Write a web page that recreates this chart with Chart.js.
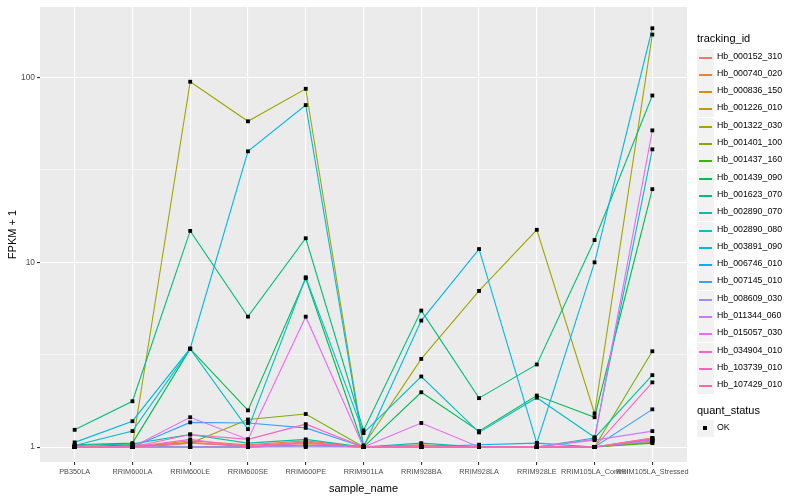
<!DOCTYPE html>
<html>
<head>
<meta charset="utf-8">
<script src="https://cdn.jsdelivr.net/npm/chart.js@4.4.1/dist/chart.umd.min.js"></script>
<style>
  body { margin: 0; background: #fff; font-family: "Liberation Sans", Arial, sans-serif; }
  #wrap { position: relative; width: 800px; height: 500px; }
  #chart { position: absolute; left: 0; top: 0; }
  .lg-title { position: absolute; left: 697px; font-size: 11px; color: #000; }
  .lg-row { position: absolute; left: 697px; height: 17px; }
  .lg-key { position: absolute; left: 0; top: 0; width: 17px; height: 17px; background: #f2f2f2; }
  .lg-line { position: absolute; left: 2px; top: 8px; width: 13px; height: 1.5px; }
  .lg-dot { position: absolute; left: 6px; top: 6px; width: 4px; height: 4px; background: #000; }
  .lg-text { position: absolute; left: 20px; top: 2px; font-size: 8.8px; color: #000; white-space: nowrap; }
</style>
</head>
<body>
<div id="wrap">
  <canvas id="chart" width="800" height="500"></canvas>
  <div id="legend"></div>
</div>
<script>
// ---------- Data ----------
const samples = ["PB350LA", "RRIM600LA", "RRIM600LE", "RRIM600SE", "RRIM600PE", "RRIM901LA",
  "RRIM928BA", "RRIM928LA", "RRIM928LE", "RRIM105LA_Control", "RRIM105LA_Stressed"];

const trackingIds = ["Hb_000152_310", "Hb_000740_020", "Hb_000836_150", "Hb_001226_010", "Hb_001322_030",
  "Hb_001401_100", "Hb_001437_160", "Hb_001439_090", "Hb_001623_070", "Hb_002890_070",
  "Hb_002890_080", "Hb_003891_090", "Hb_006746_010", "Hb_007145_010", "Hb_008609_030",
  "Hb_011344_060", "Hb_015057_030", "Hb_034904_010", "Hb_103739_010", "Hb_107429_010"];

const lineColors = ["#F8766D", "#EA8331", "#D89000", "#C09B00", "#A3A500", "#7CAE00", "#39B600", "#00BB4E",
  "#00BF7D", "#00C1A3", "#00BFC4", "#00BAE0", "#00B0F6", "#35A2FF", "#9590FF", "#C77CFF",
  "#E76BF3", "#FA62DB", "#FF62BC", "#FF6A98"];

// FPKM + 1 per sample, one array per gene
const hb_000152_310 = [1.0, 1.0, 1.05, 1.02, 1.05, 1.0, 1.02, 1.0, 1.0, 1.0, 1.08];
const hb_000740_020 = [1.0, 1.0, 1.08, 1.03, 1.08, 1.0, 1.03, 1.0, 1.0, 1.0, 1.12];
const hb_000836_150 = [1.0, 1.0, 1.06, 1.0, 1.06, 1.0, 1.0, 1.0, 1.0, 1.0, 1.1];
const hb_001226_010 = [1.0, 1.0, 1.0, 1.0, 1.03, 1.0, 1.0, 1.0, 1.0, 1.0, 1.06];
const hb_001322_030 = [1.0, 1.02, 95, 58, 87, 1.02, 3.0, 7.0, 15, 1.52, 171];
const hb_001401_100 = [1.0, 1.0, 1.05, 1.41, 1.51, 1.0, 1.0, 1.0, 1.0, 1.0, 3.3];
const hb_001437_160 = [1.0, 1.03, 1.0, 1.0, 1.02, 1.0, 1.0, 1.0, 1.0, 1.0, 1.05];
const hb_001439_090 = [1.03, 1.05, 3.4, 1.58, 8.2, 1.0, 1.98, 1.22, 1.9, 1.45, 24.9];
const hb_001623_070 = [1.24, 1.77, 14.8, 5.08, 13.5, 1.23, 5.48, 1.84, 2.8, 13.2, 80];
const hb_002890_070 = [1.02, 1.04, 1.17, 1.05, 1.1, 1.0, 1.05, 1.0, 1.0, 1.12, 2.45];
const hb_002890_080 = [1.02, 1.22, 3.4, 1.25, 8.3, 1.19, 2.41, 1.2, 1.85, 1.13, 40.9];
const hb_003891_090 = [1.06, 1.38, 3.42, 39.9, 71, 1.0, 4.84, 11.8, 1.05, 10.0, 185];
const hb_006746_010 = [1.0, 1.0, 1.0, 1.0, 1.02, 1.0, 1.0, 1.03, 1.05, 1.0, 1.1];
const hb_007145_010 = [1.0, 1.0, 1.36, 1.35, 1.27, 1.0, 1.0, 1.0, 1.0, 1.0, 1.6];
const hb_008609_030 = [1.0, 1.0, 1.0, 1.0, 1.02, 1.0, 1.0, 1.0, 1.0, 1.0, 1.08];
const hb_011344_060 = [1.0, 1.0, 1.0, 1.0, 1.0, 1.0, 1.0, 1.0, 1.0, 1.09, 1.22];
const hb_015057_030 = [1.0, 1.0, 1.45, 1.1, 5.08, 1.0, 1.35, 1.0, 1.0, 1.1, 51.8];
const hb_034904_010 = [1.0, 1.0, 1.1, 1.0, 1.05, 1.0, 1.0, 1.0, 1.0, 1.0, 1.1];
const hb_103739_010 = [1.0, 1.0, 1.17, 1.1, 1.33, 1.0, 1.0, 1.0, 1.0, 1.0, 2.24];
const hb_107429_010 = [1.0, 1.0, 1.05, 1.02, 1.06, 1.0, 1.0, 1.0, 1.0, 1.0, 1.12];

const seriesValues = [hb_000152_310, hb_000740_020, hb_000836_150, hb_001226_010, hb_001322_030,
  hb_001401_100, hb_001437_160, hb_001439_090, hb_001623_070, hb_002890_070,
  hb_002890_080, hb_003891_090, hb_006746_010, hb_007145_010, hb_008609_030,
  hb_011344_060, hb_015057_030, hb_034904_010, hb_103739_010, hb_107429_010];

const yMajor = [1, 10, 100];
const yMinor = [3.1623, 31.623];

// ---------- Chart ----------
const FONT = "'Liberation Sans', Arial, sans-serif";

const lineSets = seriesValues.map((vals, i) => ({
  label: trackingIds[i],
  data: vals.map((v, j) => ({ x: j, y: v })),
  borderColor: lineColors[i],
  borderWidth: 1.1,
  pointRadius: 0,
  fill: false,
  tension: 0,
  order: 20 - i,
}));

const pointSet = {
  label: "OK",
  data: seriesValues.flatMap((vals) => vals.map((v, j) => ({ x: j, y: v }))),
  showLine: false,
  pointStyle: "rect",
  pointRadius: 2.7,
  pointBackgroundColor: "#000",
  pointBorderWidth: 0,
  order: 0,
};

const panelBg = {
  id: "panelBg",
  beforeDraw(chart) {
    const { ctx, chartArea: a } = chart;
    ctx.save();
    ctx.fillStyle = "#ebebeb";
    ctx.fillRect(a.left, a.top, a.right - a.left, a.bottom - a.top);
    ctx.restore();
  },
};

new Chart(document.getElementById("chart"), {
  type: "line",
  data: { datasets: [...lineSets, pointSet] },
  plugins: [panelBg],
  options: {
    responsive: false,
    animation: false,
    layout: { padding: { top: 5, right: 113, left: 0, bottom: 0 } },
    plugins: { legend: { display: false }, tooltip: { enabled: false } },
    scales: {
      x: {
        type: "linear",
        min: -0.6,
        max: 10.6,
        afterBuildTicks: (s) => { s.ticks = samples.map((_, i) => ({ value: i })); },
        afterFit: (s) => { s.height = 38; },
        ticks: {
          autoSkip: false, maxRotation: 0, padding: 3,
          color: "#4d4d4d", font: { family: FONT, size: 7.3 },
          callback: (v) => samples[v],
        },
        grid: { color: "#ffffff", lineWidth: 1.1, tickLength: 3, tickColor: "#333333" },
        border: { display: false },
        title: { display: true, text: "sample_name", color: "#000", font: { family: FONT, size: 11 }, padding: { top: 0, bottom: 4 } },
      },
      y: {
        type: "logarithmic",
        min: 0.83,
        max: 241,
        afterBuildTicks: (s) => { s.ticks = [...yMajor, ...yMinor].sort((a, b) => a - b).map((v) => ({ value: v })); },
        afterFit: (s) => { s.width = 40; },
        ticks: {
          padding: 2, color: "#4d4d4d", font: { family: FONT, size: 8.4 },
          callback: (v) => (yMajor.includes(v) ? String(v) : ""),
        },
        grid: {
          color: "#ffffff",
          lineWidth: (c) => (yMajor.includes(c.tick.value) ? 1.1 : 0.55),
          tickLength: 3,
          tickColor: (c) => (yMajor.includes(c.tick.value) ? "#333333" : "rgba(0,0,0,0)"),
        },
        border: { display: false },
        title: { display: true, text: "FPKM + 1", color: "#000", font: { family: FONT, size: 11 }, padding: { top: 6, bottom: 0 } },
      },
    },
  },
});

// ---------- Legend ----------
function buildLegend() {
  const el = document.getElementById("legend");
  let html = `<div class="lg-title" style="top:32px">tracking_id</div>`;
  trackingIds.forEach((id, i) => {
    const top = Math.round(48.5 + i * 17.3);
    html += `<div class="lg-row" style="top:${top}px">
      <div class="lg-key"><div class="lg-line" style="background:${lineColors[i]}"></div></div>
      <div class="lg-text">${id}</div></div>`;
  });
  html += `<div class="lg-title" style="top:404px">quant_status</div>`;
  html += `<div class="lg-row" style="top:420px"><div class="lg-key"><div class="lg-dot"></div></div>
    <div class="lg-text">OK</div></div>`;
  el.innerHTML = html;
}
buildLegend();
</script>
</body>
</html>
